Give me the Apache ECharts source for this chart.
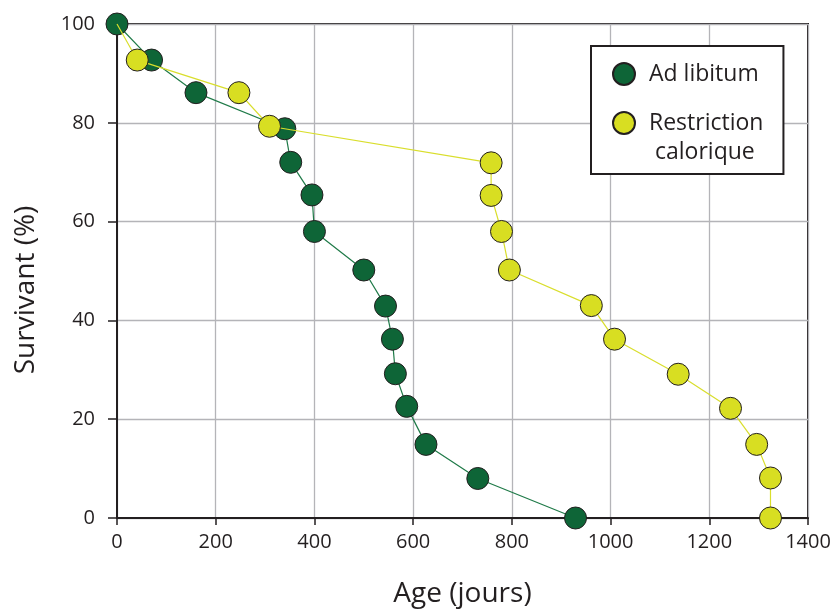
<!DOCTYPE html>
<html>
<head>
<meta charset="utf-8">
<script src="https://cdn.jsdelivr.net/npm/echarts@6/dist/echarts.min.js"></script>
<style>
html,body{margin:0;padding:0;background:#fff;}
#chart{width:836px;height:613px;}
</style>
</head>
<body>
<div id="chart"></div>
<script>
// Ad libitum
const ageAdLib  = [0, 70, 160, 340, 352, 395, 400, 500, 544, 558, 564, 587, 626, 731, 929];
const survAdLib = [100, 92.7, 86.1, 78.8, 72.0, 65.4, 58.0, 50.2, 42.9, 36.2, 29.2, 22.6, 14.9, 8.0, 0];
// Restriction calorique
const ageRC  = [0, 41, 247, 309, 758, 758, 779, 795, 961, 1008, 1137, 1243, 1296, 1324, 1324];
const survRC = [100, 92.7, 86.1, 79.3, 71.9, 65.3, 58.0, 50.2, 43.0, 36.2, 29.1, 22.2, 14.9, 8.1, 0];

const seriesNames = ['Ad libitum', 'Restriction calorique'];
const xTicks = [0, 200, 400, 600, 800, 1000, 1200, 1400];
const yTicks = [0, 20, 40, 60, 80, 100];

const INK = '#231f20';
const FONT = 'Open Sans';

function pairs(xs, ys) { return xs.map((x, i) => [x, ys[i]]); }

const chart = echarts.init(document.getElementById('chart'), null, {renderer: 'canvas'});
const gridColor = '#b4b4b8';

const option = {
  backgroundColor: '#fff',
  animation: false,
  textStyle: {fontFamily: FONT},
  grid: {left: 117, right: 28, top: 24, bottom: 94, show: true, borderColor: INK, borderWidth: 2, backgroundColor: 'transparent'},
  xAxis: {
    type: 'value', min: xTicks[0], max: xTicks[xTicks.length - 1], interval: xTicks[1] - xTicks[0],
    name: 'Age (jours)', nameLocation: 'middle', nameGap: 62,
    nameTextStyle: {fontSize: 28, color: INK, fontFamily: FONT},
    axisLine: {show: true, lineStyle: {color: INK, width: 2}},
    axisTick: {show: true, inside: false, length: 7, lineStyle: {color: INK, width: 1.5}},
    axisLabel: {fontSize: 20, color: INK, margin: 14, fontFamily: FONT, formatter: v => String(v)},
    splitLine: {show: true, lineStyle: {color: gridColor, width: 1.3}}
  },
  yAxis: {
    type: 'value', min: yTicks[0], max: yTicks[yTicks.length - 1], interval: yTicks[1] - yTicks[0],
    name: 'Survivant (%)', nameLocation: 'middle', nameGap: 77,
    nameTextStyle: {fontSize: 28, color: INK, fontFamily: FONT, padding: [0, 38, 0, 0]},
    axisLine: {show: true, lineStyle: {color: INK, width: 2}},
    axisTick: {show: true, inside: false, length: 9, lineStyle: {color: INK, width: 1.5}},
    axisLabel: {fontSize: 20, color: INK, margin: 22, fontFamily: FONT, formatter: v => String(v)},
    splitLine: {show: true, lineStyle: {color: gridColor, width: 1.3}}
  },
  legend: {
    orient: 'vertical', left: 591, top: 46, z: 5,
    padding: [16, 20, 39, 21], itemGap: 25,
    borderColor: INK, borderWidth: 2, backgroundColor: '#fff',
    itemWidth: 22, itemHeight: 22, icon: 'circle',
    data: seriesNames,
    formatter: function (name) { return name === seriesNames[1] ? 'Restriction' : name; },
    textStyle: {fontSize: 23, color: INK, fontFamily: FONT, lineHeight: 24, padding: [0, 0, 0, 9]}
  },
  graphic: [{
    type: 'text', left: 655, top: 141, z: 100, zlevel: 0,
    style: {text: 'calorique', fontSize: 23, fill: INK, fontFamily: FONT}
  }],
  series: [
    {
      name: seriesNames[0], type: 'line', z: 2,
      data: pairs(ageAdLib, survAdLib),
      symbol: 'circle', symbolSize: 22, clip: false,
      lineStyle: {color: '#1f7a48', width: 1.2},
      itemStyle: {color: '#0e6537', borderColor: INK, borderWidth: 1}
    },
    {
      name: seriesNames[1], type: 'line', z: 3,
      data: pairs(ageRC, survRC).map((p, i) => i === 0 ? {value: p, symbol: 'none'} : p),
      symbol: 'circle', symbolSize: 22, clip: false,
      lineStyle: {color: '#d9de2c', width: 1.2},
      itemStyle: {color: '#d8de22', borderColor: INK, borderWidth: 1}
    }
  ]
};
chart.setOption(option);
</script>
</body>
</html>
